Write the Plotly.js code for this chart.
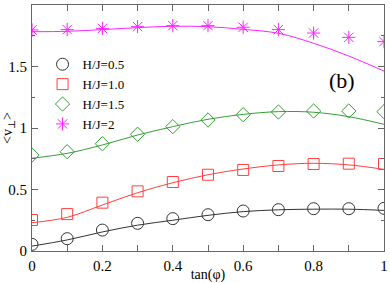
<!DOCTYPE html>
<html><head><meta charset="utf-8">
<script src="https://cdn.plot.ly/plotly-3.0.1.min.js"></script>
<style>body{margin:0;background:#fff}#c{width:390px;height:283px}</style>
</head><body><div id="c"></div>
<script>
const xs = [0,0.1,0.2,0.3,0.4,0.5,0.6,0.7,0.8,0.9,1.0];
const names = ["H/J=0.5","H/J=1.0","H/J=1.5","H/J=2"];
const pts05 = [0.054,0.10,0.17,0.225,0.263,0.295,0.325,0.336,0.344,0.344,0.347];
const pts10 = [0.252,0.30,0.393,0.485,0.561,0.62,0.659,0.691,0.707,0.71,0.707];
const pts15 = [0.78,0.807,0.872,0.949,1.011,1.065,1.108,1.13,1.138,1.138,1.133];
const pts20 = [1.797,1.80,1.81,1.824,1.832,1.832,1.819,1.80,1.772,1.737,1.702];
const fit05 = [0.04,0.09,0.155,0.21,0.25,0.29,0.32,0.335,0.34,0.34,0.33];
const fit10 = [0.23,0.274,0.374,0.474,0.555,0.62,0.667,0.70,0.713,0.70,0.664];
const fit15 = [0.754,0.794,0.862,0.943,1.011,1.071,1.111,1.133,1.128,1.092,1.030];
const fit20 = [1.783,1.786,1.80,1.816,1.827,1.824,1.802,1.77,1.689,1.585,1.463];
const colors = ["#333333","#ff4040","#33a033","#ff22ff"];
const symbols = ["circle-open","square-open","diamond-open","asterisk-open"];
const sizes = [12,11,11,11];
const pts = [pts05,pts10,pts15,pts20];
const fits = [fit05,fit10,fit15,fit20];
const FAM = '"Liberation Serif", "Times New Roman", "DejaVu Serif", serif';
const data = [];
for (let i=0;i<4;i++){
  data.push({x:xs,y:fits[i],mode:'lines',line:{color:colors[i],width:1,shape:'spline'},showlegend:false,hoverinfo:'skip'});
}
for (let i=0;i<4;i++){
  data.push({x:xs,y:pts[i],mode:'markers',name:names[i],
    marker:{symbol:symbols[i],size:sizes[i],color:colors[i],line:{color:colors[i],width:1}}});
}
const axisCommon = {showgrid:false,zeroline:false,showline:true,linecolor:'#666',linewidth:1,mirror:'ticks',
  ticks:'inside',ticklen:6,tickcolor:'#666',ticklabelstandoff:1,tickfont:{family:FAM,size:15,color:'#000'}};
const layout = {
  width:390,height:283,margin:{l:32,r:6,t:5,b:32},
  paper_bgcolor:'#fff',plot_bgcolor:'#fff',
  font:{family:FAM,color:'#000'},
  xaxis:Object.assign({},axisCommon,{range:[0,1],tickvals:[0,0.2,0.4,0.6,0.8,1],ticktext:["0","0.2","0.4","0.6","0.8","1"],
    minor:{dtick:0.1,ticks:'inside',ticklen:6,tickcolor:'#666'},
    title:{text:'tan(φ)',font:{family:FAM,size:14},standoff:4}}),
  yaxis:Object.assign({},axisCommon,{range:[0,2],tickvals:[0,0.5,1,1.5,2],ticktext:["0","0.5","1","1.5","2"],
    minor:{dtick:0.25,ticks:'inside',ticklen:3,tickcolor:'#666'},
    title:{text:'&lt;v<sub>⊥</sub>&gt;',font:{family:FAM,size:14},standoff:6}}),
  legend:{x:0.03,y:0.82,xanchor:'left',yanchor:'top',bgcolor:'rgba(0,0,0,0)',
    font:{family:FAM,size:13},tracegroupgap:0},
  annotations:[{text:'(b)',xref:'paper',yref:'paper',x:0.88,y:0.695,xanchor:'center',yanchor:'middle',showarrow:false,
    font:{family:FAM,size:22,color:'#000'}}]
};
Plotly.newPlot('c',data,layout,{staticPlot:true});
</script></body></html>
